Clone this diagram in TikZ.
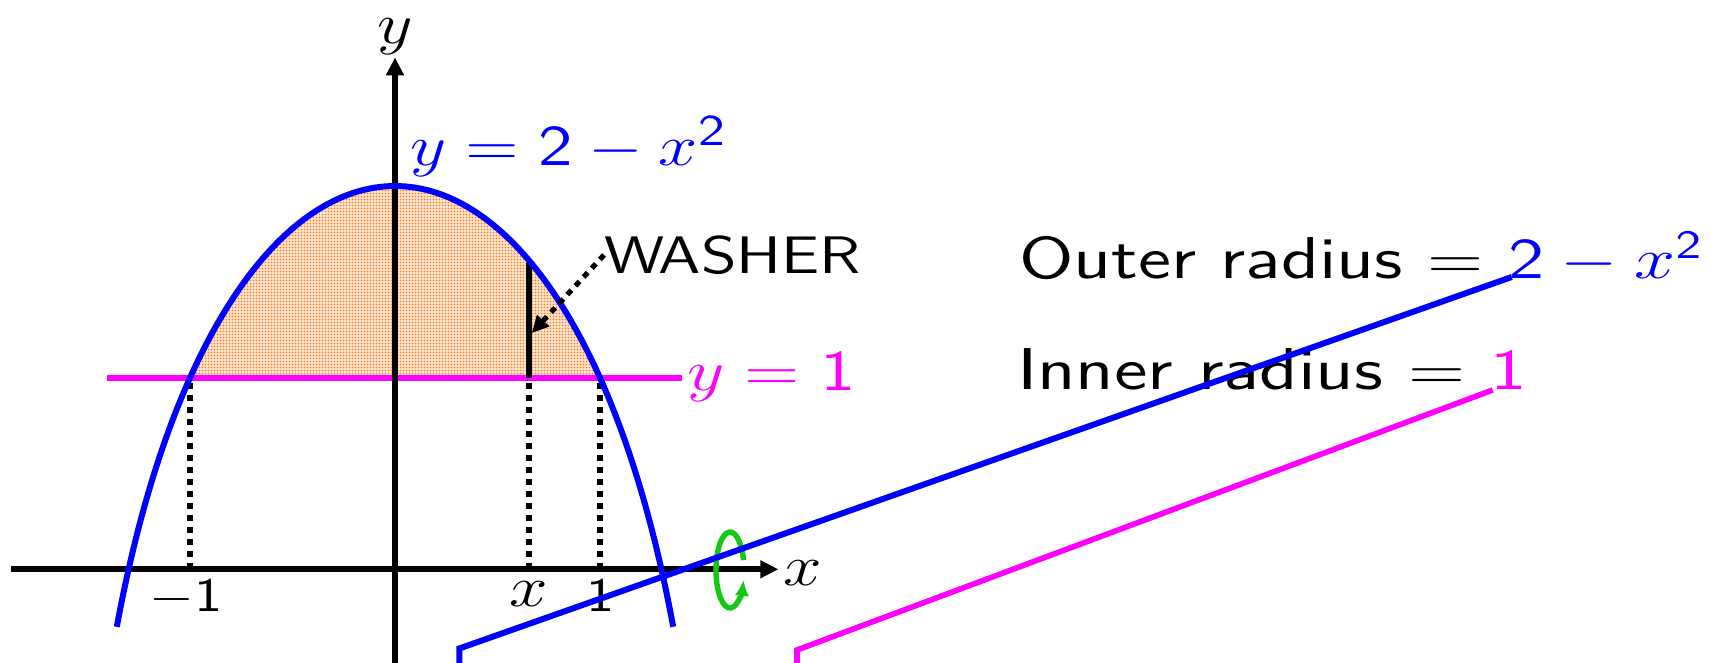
\documentclass[tikz,border=0pt]{standalone}
\usepackage{amsmath}
\usetikzlibrary{arrows.meta,patterns}
\pgfdeclarepatternformonly{finedots}{\pgfpoint{-0.1pt}{-0.1pt}}{\pgfpoint{0.85pt}{0.85pt}}{\pgfpoint{0.75pt}{0.75pt}}{\pgfpathcircle{\pgfpoint{0.375pt}{0.375pt}}{0.22pt}\pgfusepath{fill}}
\definecolor{cblue}{RGB}{0,0,255}
\definecolor{cmag}{RGB}{255,0,255}
\definecolor{cgreen}{RGB}{20,200,20}
\definecolor{corange}{RGB}{255,120,20}
\begin{document}
\begin{tikzpicture}[x=0.25pt,y=0.25pt]
\useasboundingbox (0,0) rectangle (1711,663);
\tikzset{
  thickln/.style={line width=1.5pt},
  dotln/.style={line width=1.6pt, dash pattern=on 1.5pt off 1.5pt},
  axisln/.style={line width=1.5pt, -{Triangle[length=4.5pt,width=4.25pt]}},
  lbl/.style={inner sep=0pt, outer sep=0pt},
}
\fill[white] (0,0) rectangle (1711,663);
\begin{scope}[shift={(395,93.7)}, x=51.25pt, y=47.9pt]
  \begin{scope}
    \clip (-2,1) rectangle (2,3);
    \fill[corange!20] (-1.357,-0.3) .. controls (-0.827,2.767) and (0.827,2.767) .. (1.357,-0.3) -- cycle;
    \fill[pattern=finedots, pattern color=corange] (-1.357,-0.3) .. controls (-0.827,2.767) and (0.827,2.767) .. (1.357,-0.3) -- cycle;
  \end{scope}
  \coordinate (ml) at (-1.403,1);
  \coordinate (mr) at (1.402,1);
  \draw[thickln, cmag] (ml) -- (mr);
  \node[anchor=west, inner sep=1pt, text=cmag, font=\fontsize{15}{18}\selectfont] (mlab) at (mr) {\scalebox{1.26}[1]{$y=\mathsf{1}$}};
  \coordinate (yb) at (0,-0.5);
  \coordinate (yt) at (0,2.672);
  \draw[axisln] (yb) -- (yt);
  \coordinate (xl) at (-1.873,0);
  \coordinate (xr) at (1.870,0);
  \draw[axisln] (xl) -- (xr);
  \coordinate (wb) at (0.654,1);
  \coordinate (wt) at (0.654,1.6);
  \draw[thickln] (wb) -- (wt);
  \coordinate (da1) at (-1,0.97); \coordinate (da0) at (-1,0);
  \coordinate (db1) at (0.654,0.97); \coordinate (db0) at (0.654,0);
  \coordinate (dc1) at (1,0.97); \coordinate (dc0) at (1,0);
  \draw[dotln] (da1) -- (da0);
  \draw[dotln] (db1) -- (db0);
  \draw[dotln] (dc1) -- (dc0);
  \draw[thickln, cblue] (-1.357,-0.3) .. controls (-0.827,2.767) and (0.827,2.767) .. (1.357,-0.3);
  \coordinate (washtip) at (0.667,1.233);
\end{scope}
% axis labels
\node[lbl, anchor=base, font=\fontsize{15.5}{18}\selectfont] (ylab) at (395,619) {\scalebox{1.2}[1]{$y$}};
\node[lbl, anchor=base west, font=\fontsize{15.5}{18}\selectfont] (xlab) at (783,78) {\scalebox{1.2}[1]{$x$}};
\node[lbl, anchor=base, font=\fontsize{12.5}{15}\selectfont] (xm1) at (186,51) {\scalebox{1.2}[1]{$-\mathsf{1}$}};
\node[lbl, anchor=base, font=\fontsize{15.5}{18}\selectfont] (xx) at (529,56) {\scalebox{1.2}[1]{$x$}};
\node[lbl, anchor=base, font=\fontsize{12.5}{15}\selectfont] (xone) at (601,51) {\scalebox{1.2}[1]{$\mathsf{1}$}};
\node[lbl, anchor=base west, text=cblue, font=\fontsize{15.3}{18}\selectfont] (blab) at (410,497) {\scalebox{1.22}[1]{$y=\mathsf{2}-x^{\mathsf{2}}$}};
% washer
\node[lbl, anchor=west, font=\fontsize{13.2}{16}\selectfont\sffamily] (washer) at (604,408) {\scalebox{1.24}[1]{WASHER}};
\draw[dotln, line width=1.3pt, -{Triangle[length=4.25pt,width=4pt]}] (washer.west) -- (washtip);
% rotation arrow
\draw[cgreen, line width=1.35pt, -{Latex[length=4pt,width=3.6pt]}] (730,93) ++(15:14 and 38) arc[start angle=15,end angle=345,x radius=14,y radius=38];
% right text
\node[lbl, anchor=base west, font=\fontsize{14.75}{18}\selectfont\sffamily] (outer) at (1019,384) {\scalebox{1.28}[1]{Outer radius $=$ \textcolor{cblue}{$\mathsf{2}-x^{\mathsf{2}}$}}};
\node[lbl, anchor=base west, font=\fontsize{14.75}{18}\selectfont\sffamily] (inner) at (1017,273) {\scalebox{1.3}[1]{Inner radius $=$ \textcolor{cmag}{$\mathsf{1}$}}};
% washer cross-section lines
\coordinate (bo0) at (459.3,0); \coordinate (bo1) at (459.3,14.5); \coordinate (bo2) at (1511.7,386);
\coordinate (mo0) at (797,0); \coordinate (mo1) at (797,13); \coordinate (mo2) at (1492.7,273);
\draw[thickln, cblue] (bo0) -- (bo1) -- (bo2);
\draw[line width=1.4pt, cmag] (mo0) -- (mo1) -- (mo2);
\end{tikzpicture}
\end{document}
